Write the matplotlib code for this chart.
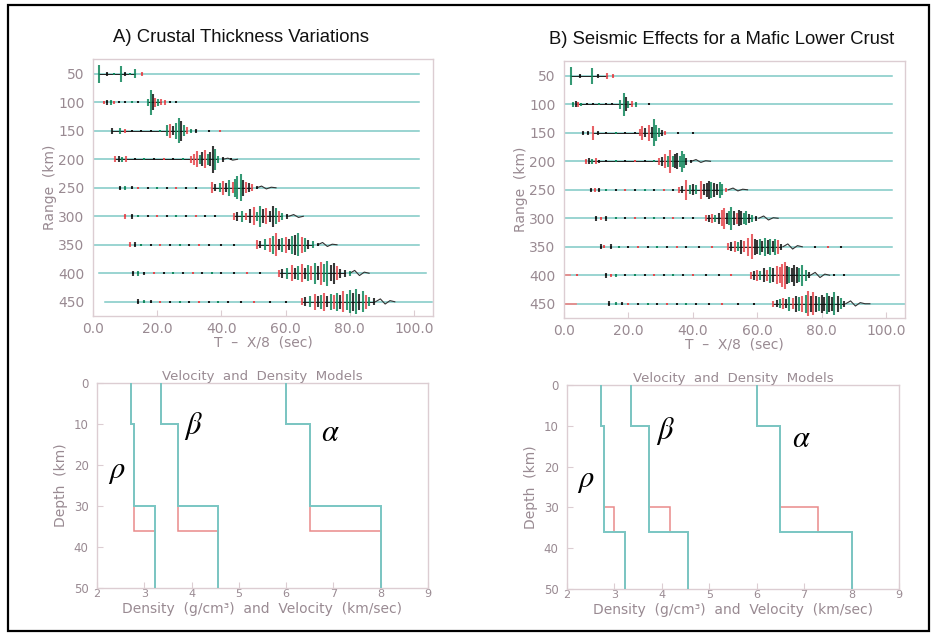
import matplotlib
matplotlib.use("Agg")
import matplotlib.pyplot as plt
from matplotlib.patches import Rectangle

# ---------------- data ----------------
ranges = [50, 100, 150, 200, 250, 300, 350, 400, 450]
time_ticks = [0, 20, 40, 60, 80, 100]
time_ticklabels = ["0.0", "20.0", "40.0", "60.0", "80.0", "100.0"]

A_start = [0, 0, 0, 0, 0, 0, 0, 2.0, 3.7]
A_end = [101.5, 101.5, 101.5, 101.5, 101.5, 101.5, 101.5, 103.6, 105.6]
B_start = [0, 0, 0, 0, 0, 0, 0, 0, 0]
B_end = [101.8, 101.8, 101.8, 101.8, 101.8, 101.8, 101.8, 104.0, 105.9]
B_red_start_end = {400: 2.0, 450: 3.7}

# spikes: (time s, half amplitude km, colour code)
A_050 = [(2.0,16,'g'),(4.5,3,'k'),(6.5,2,'g'),(8.7,14,'g'),(10.0,4,'k'),(11.5,2,'g'),(13.0,8,'g'),(15.4,4,'r')]
A_100 = [(3.5,3,'r'),(4.5,4,'k'),(5.5,4,'g'),(6.5,3,'r'),(8,2,'k'),(10,2,'k'),(12,2,'g'),(14,2,'k'),(17.2,6,'g'),
         (18.0,22,'g'),(18.6,14,'k'),(19.3,8,'r'),(20.2,6,'g'),(21.2,5,'r'),(22.5,4,'r'),(24,2,'k'),(26,2,'k')]
A_150 = [(6,5,'k'),(8.5,5,'g'),(10,3,'r'),(12,2,'k'),(15,2,'k'),(18,2,'k'),(21,2,'g'),(23,10,'g'),(24,12,'r'),(25,8,'k'),
         (26,14,'g'),(26.8,22,'g'),(27.5,18,'k'),(28.3,10,'g'),(29.3,6,'r'),(30.5,4,'g'),(32,3,'k'),(36,2,'k'),(39.5,2,'r')]
A_200 = [(7,5,'r'),(8,5,'k'),(9,4,'g'),(10.4,5,'r'),(13,2,'k'),(16,2,'g'),(19,2,'k'),(22,2,'r'),(25,2,'k'),(28,2,'g'),
         (30.6,6,'r'),(31.5,10,'r'),(32.3,14,'r'),(33.2,8,'g'),(34,12,'k'),(35,16,'r'),(35.8,10,'g'),(36.5,12,'k'),
         (37.3,24,'k'),(38,18,'g'),(39,6,'g'),(40.5,4,'k'),(43,2,'k')]
A_250 = [(8.4,4,'k'),(10,4,'g'),(12,3,'k'),(14,2,'r'),(17,2,'k'),(20,2,'g'),(23,2,'k'),(26,2,'r'),(29,2,'k'),(32,2,'k'),
         (37,10,'r'),(38,6,'k'),(39.5,8,'g'),(40.5,12,'r'),(41.5,8,'k'),(42.5,14,'g'),(43.5,10,'r'),(44.3,16,'g'),
         (45,20,'g'),(46,24,'g'),(46.8,14,'k'),(47.5,10,'r'),(48.5,8,'k'),(49.5,6,'r'),(51,3,'k')]
A_300 = [(10,4,'r'),(12,4,'k'),(14,2,'g'),(17,2,'k'),(20,2,'r'),(23,2,'k'),(26,2,'g'),(29,2,'k'),(32,2,'r'),(35,2,'k'),
         (38,2,'k'),(44,6,'r'),(45,8,'k'),(46.5,10,'g'),(47.5,6,'r'),(49,12,'k'),(50,16,'r'),(51,8,'g'),(52,18,'g'),
         (53,12,'k'),(54,14,'r'),(55,10,'k'),(56,18,'k'),(57,14,'g'),(58,10,'r'),(59,6,'g'),(60.5,4,'k')]
A_350 = [(11.5,4,'r'),(13,4,'k'),(15,2,'g'),(18,2,'k'),(21,2,'r'),(24,2,'k'),(27,2,'g'),(30,2,'k'),(33,2,'r'),(36,2,'k'),
         (40,2,'k'),(44,2,'k'),(51,8,'r'),(52,6,'k'),(53.5,10,'g'),(55,12,'r'),(56,16,'g'),(57,20,'r'),(58,10,'k'),
         (59,12,'g'),(60,14,'r'),(61,10,'k'),(62,16,'g'),(63,18,'k'),(64,20,'g'),(65,14,'r'),(66,12,'g'),(67,8,'k'),
         (68.5,6,'g'),(70,3,'k')]
A_400 = [(12.5,4,'k'),(14,4,'g'),(16,3,'k'),(19,2,'r'),(22,2,'k'),(25,2,'g'),(28,2,'k'),(31,2,'r'),(34,2,'k'),(37,2,'g'),
         (40,2,'k'),(44,2,'k'),(48,2,'r'),(52,2,'k'),(58,6,'r'),(59,8,'k'),(60.5,10,'g'),(62,14,'r'),(63,10,'k'),
         (64,12,'g'),(65,16,'r'),(66,10,'k'),(67,14,'g'),(68,12,'r'),(69,18,'g'),(70,12,'k'),(71,20,'r'),(72,16,'g'),
         (73,22,'g'),(74,14,'k'),(75,18,'k'),(76,12,'r'),(77,8,'k'),(78.5,6,'k'),(80,4,'g')]
A_450 = [(14,4,'k'),(16,3,'g'),(18,3,'k'),(21,2,'r'),(24,2,'k'),(27,2,'g'),(30,2,'k'),(33,2,'r'),(36,2,'k'),(39,2,'g'),
         (42,2,'k'),(46,2,'k'),(50,2,'r'),(55,2,'k'),(60,2,'k'),(65,6,'r'),(66,8,'k'),(67.5,10,'g'),(69,14,'r'),
         (70,10,'k'),(71,12,'g'),(72,16,'r'),(73,10,'k'),(74,14,'g'),(75,12,'r'),(76,16,'g'),(77,12,'k'),(78,18,'r'),
         (79,14,'g'),(80,20,'g'),(81,16,'k'),(82,22,'g'),(83,14,'k'),(84,18,'g'),(85,12,'r'),(86,8,'g'),(87.5,6,'k')]

B_050 = [(2.2,16,'g'),(5,3,'k'),(8.6,14,'g'),(10.5,4,'k'),(13.3,5,'r'),(15.3,4,'r')]
B_100 = [(2.8,4,'g'),(3.6,5,'k'),(4.4,4,'r'),(5.4,3,'g'),(7,2,'k'),(9,2,'k'),(11,2,'g'),(13,2,'k'),(15,2,'k'),
         (17.5,8,'g'),(18.5,20,'g'),(19.2,12,'k'),(20,6,'g'),(21,5,'r'),(22.5,4,'g'),(26.5,2,'k')]
B_150 = [(6,4,'k'),(7.5,3,'k'),(9,12,'r'),(10.5,3,'k'),(13,2,'k'),(16,2,'g'),(19,2,'k'),(22,2,'k'),(23.7,6,'r'),
         (24.2,12,'r'),(25.2,8,'k'),(26.3,14,'r'),(27.2,10,'k'),(27.9,24,'g'),(28.6,14,'g'),(29.5,8,'g'),(30.5,5,'k'),
         (31.5,3,'r'),(35.5,2,'k'),(40,2,'k')]
B_200 = [(6.8,4,'r'),(7.8,5,'k'),(8.8,4,'g'),(10,5,'r'),(11,3,'k'),(13,2,'k'),(16,2,'g'),(19,2,'k'),(22,2,'r'),(25,2,'k'),
         (28,2,'g'),(29.5,6,'r'),(30.5,8,'k'),(31.5,12,'r'),(32.3,10,'g'),(33,20,'r'),(33.8,10,'g'),(34.5,12,'k'),
         (35.2,14,'k'),(35.9,10,'g'),(36.5,18,'g'),(37.2,12,'g'),(38,6,'k'),(39.5,3,'k')]
B_250 = [(8.5,4,'k'),(9.5,4,'r'),(11,4,'k'),(13,2,'g'),(16,2,'k'),(19,2,'r'),(22,2,'k'),(25,2,'g'),(28,2,'k'),(31,2,'r'),
         (34,2,'k'),(35.6,5,'r'),(36.5,6,'k'),(38,18,'r'),(39,8,'g'),(40,10,'k'),(41,8,'g'),(42.6,16,'r'),(43.5,10,'k'),
         (44.3,12,'k'),(45,16,'k'),(45.8,14,'g'),(46.6,12,'k'),(47.5,10,'k'),(48.3,14,'g'),(49.2,10,'g'),(50.3,4,'r')]
B_300 = [(10,4,'k'),(11.5,3,'r'),(13,4,'k'),(16,2,'g'),(19,2,'k'),(22,2,'r'),(25,2,'k'),(28,2,'g'),(31,2,'k'),(34,2,'r'),
         (37,2,'k'),(40,2,'k'),(44,5,'r'),(45,6,'k'),(46,8,'r'),(47,6,'g'),(48,10,'k'),(49,14,'r'),(49.6,18,'r'),
         (50.5,10,'k'),(51.3,12,'g'),(52,20,'g'),(52.8,12,'k'),(53.6,10,'r'),(54.3,14,'k'),(55,12,'k'),(55.8,10,'g'),
         (56.6,12,'g'),(57.5,8,'k'),(58.5,6,'g'),(59.5,4,'k')]
B_350 = [(11.5,4,'k'),(12.5,3,'r'),(14.5,4,'k'),(17,2,'g'),(20,2,'k'),(23,2,'r'),(26,2,'k'),(29,2,'g'),(32,2,'k'),(35,2,'r'),
         (38,2,'k'),(42,2,'k'),(46,2,'r'),(51,6,'r'),(52,8,'k'),(53,10,'r'),(54,8,'g'),(55,12,'k'),(56,10,'r'),
         (57,16,'r'),(58.4,22,'r'),(59.2,14,'k'),(60,12,'k'),(60.8,14,'g'),(61.6,10,'k'),(62.4,16,'g'),(63.2,12,'k'),
         (64,14,'g'),(64.8,10,'k'),(65.6,14,'g'),(66.5,12,'r'),(67.5,5,'k'),(78,2,'k'),(82,2,'r'),(86,2,'k')]
B_400 = [(4,2,'r'),(13,4,'k'),(14.5,3,'r'),(16,3,'g'),(19,2,'k'),(22,2,'g'),(25,2,'k'),(28,2,'r'),(31,2,'k'),(34,2,'g'),
         (37,2,'k'),(40,2,'r'),(44,2,'k'),(48,2,'k'),(52,2,'r'),(58,6,'r'),(59,8,'k'),(60,10,'r'),(61,8,'g'),(62,12,'k'),
         (63,10,'r'),(64,14,'g'),(65,12,'k'),(66,16,'r'),(67,14,'r'),(67.8,20,'r'),(68.5,24,'r'),(69.3,16,'k'),
         (70,14,'g'),(70.8,12,'k'),(71.5,18,'k'),(72.3,14,'k'),(73,12,'g'),(74,18,'g'),(75,10,'g'),(76,5,'k'),
         (84,2,'k'),(87,2,'k')]
B_450 = [(14,4,'k'),(16,3,'g'),(18,3,'k'),(20,2,'r'),(23,2,'k'),(26,2,'g'),(29,2,'k'),(32,2,'r'),(35,2,'k'),(38,2,'g'),
         (41,2,'k'),(45,2,'k'),(49,2,'r'),(54,2,'k'),(59,2,'k'),(65,5,'r'),(66,6,'k'),(67,8,'g'),(68,10,'r'),(69,8,'k'),
         (70,12,'g'),(71,10,'r'),(72,14,'k'),(73,12,'g'),(74,14,'r'),(75,16,'g'),(75.8,22,'r'),(76.6,14,'k'),
         (77.4,20,'r'),(78.4,14,'k'),(79.2,12,'g'),(80,16,'k'),(80.8,12,'k'),(81.6,18,'g'),(82.4,14,'k'),(83.2,12,'k'),
         (84,20,'g'),(85,14,'k'),(86,10,'g'),(87,5,'k')]

# low-frequency tails after the main packets: (time s, offset km)
A_tails = {200: [(40.5,0),(42,-2),(43.5,1.5),(45,0)],
           250: [(51,0),(52.5,-3),(54,2),(55.5,-1),(57,0)],
           300: [(61,0),(62.5,-3),(64,2),(65.5,0)],
           350: [(70,0),(71.5,-4),(73,3),(74.5,-1),(76,0)],
           400: [(80,0),(81.5,-5),(83,4),(84.5,-2),(86,0)],
           450: [(88,0),(89.5,-5),(91,4),(92.5,-2),(94,0)]}
B_tails = {200: [(39.5,0),(41,-3),(42.5,2),(44,-1),(45.5,0)],
           250: [(51,0),(52.5,-3),(54,2),(55.5,-1),(57,0)],
           300: [(60.5,0),(62,-4),(63.5,3),(65,-1),(66.5,0)],
           350: [(68,0),(69.5,-5),(71,4),(72.5,-2),(74,0)],
           400: [(76.5,0),(78,-5),(79.5,4),(81,-2),(82.5,0)],
           450: [(87.5,0),(89,-5),(90.5,4),(92,-2),(93.5,0),(95,0)]}

A_spikes = [A_050, A_100, A_150, A_200, A_250, A_300, A_350, A_400, A_450]
B_spikes = [B_050, B_100, B_150, B_200, B_250, B_300, B_350, B_400, B_450]

# velocity / density models (layer edges in km, values)
A_ref_edges = [0, 10, 30, 50]
A_ref_rho = [2.72, 2.78, 3.22]
A_ref_vs = [3.35, 3.72, 4.55]
A_ref_vp = [6.0, 6.5, 8.0]
A_alt_edges = [0, 10, 36, 50]
A_alt_rho = [2.72, 2.78, 3.22]
A_alt_vs = [3.35, 3.72, 4.55]
A_alt_vp = [6.0, 6.5, 8.0]

B_ref_edges = [0, 10, 36, 50]
B_ref_rho = [2.72, 2.78, 3.22]
B_ref_vs = [3.35, 3.72, 4.55]
B_ref_vp = [6.0, 6.5, 8.0]
B_alt_edges = [0, 10, 30, 36, 50]
B_alt_rho = [2.72, 2.78, 3.0, 3.22]
B_alt_vs = [3.35, 3.72, 4.17, 4.55]
B_alt_vp = [6.0, 6.5, 7.3, 8.0]

A_greek = [(r"$\rho$", 2.42, 21.6), (r"$\beta$", 4.05, 10.4), (r"$\alpha$", 6.93, 12.0)]
B_greek = [(r"$\rho$", 2.40, 23.4), (r"$\beta$", 4.07, 11.2), (r"$\alpha$", 6.94, 13.0)]

# ---------------- style ----------------
W, H = 932, 634
CYAN = "#7ec9c5"
MREF = "#79c6c3"
MRED = "#e98a8a"
SPK = {'g': "#12875c", 'r': "#e4474c", 'k': "#151515"}
SPINE = "#dccdd2"
LABC = "#998a92"
TICKFONT = "DejaVu Sans"

fig = plt.figure(figsize=(W / 100, H / 100), dpi=100)


def fax(x0, y0, x1, y1):
    return fig.add_axes([x0 / W, 1 - y1 / H, (x1 - x0) / W, (y1 - y0) / H])


def style(ax):
    for s in ax.spines.values():
        s.set_color(SPINE)
        s.set_linewidth(1.0)
    ax.tick_params(direction="in", color=SPINE, labelcolor=LABC, length=4, width=0.8)


def record(ax, spikes, starts, ends, tails, red_start=None):
    for i, r in enumerate(ranges):
        ax.plot([starts[i], ends[i]], [r, r], color=CYAN, lw=1.1, zorder=1)
        if red_start and r in red_start:
            ax.plot([0, red_start[r]], [r, r], color=MRED, lw=1.3, zorder=2)
        ev = spikes[i]
        big = [e[0] for e in ev if e[1] >= 5]
        if big:
            ax.plot([min(big), max(big)], [r, r], color="#222222", lw=0.7, zorder=2)
        for code in "rgk":
            st = [e[0] for e in ev if e[2] == code and e[1] < 5]
            ax.plot(st, [r] * len(st), lw=0, marker="s", ms=1.7, mew=0, color=SPK[code], alpha=0.85, zorder=2)
            tt = [e[0] for e in ev if e[2] == code]
            aa = [e[1] for e in ev if e[2] == code]
            ax.vlines(tt, [r - a for a in aa], [r + a for a in aa], colors=SPK[code],
                      lw=1.5, alpha=0.85, zorder=3)
        if r in tails:
            ax.plot([p[0] for p in tails[r]], [r + p[1] for p in tails[r]], color="#333333", lw=0.8, zorder=2)
    ax.set_xlim(0, 105.9)
    ax.set_ylim(475, 24)
    ax.set_xticks(time_ticks)
    ax.set_xticklabels(time_ticklabels, family=TICKFONT, fontsize=10)
    ax.set_yticks(ranges)
    ax.set_yticklabels([str(r) for r in ranges], family=TICKFONT, fontsize=10)
    ax.tick_params(axis="x", pad=4)
    ax.set_xlabel("T  –  X/8  (sec)", family=TICKFONT, fontsize=10, color=LABC, labelpad=0)
    ax.set_ylabel("Range  (km)", family=TICKFONT, fontsize=10, color=LABC, labelpad=1)
    style(ax)
    ax.tick_params(axis="y", length=0, pad=6)


def model(ax, ref_e, ref, alt_e, alt, greek):
    for vals in alt:
        ax.stairs(vals, alt_e, orientation="horizontal", baseline=None, color=MRED, lw=1.1, zorder=2)
    for vals in ref:
        ax.stairs(vals, ref_e, orientation="horizontal", baseline=None, color=MREF, lw=1.4, zorder=3)
    for g, x, y in greek:
        ax.text(x, y, g, math_fontfamily="stix", fontsize=22, ha="center", va="center", color="black")
    ax.set_xlim(2, 9)
    ax.set_ylim(50, 0)
    ax.set_xticks(range(2, 10))
    ax.set_xticklabels([str(v) for v in range(2, 10)], family=TICKFONT, fontsize=8)
    ax.set_yticks(range(0, 51, 10))
    ax.set_yticklabels([str(v) for v in range(0, 51, 10)], family=TICKFONT, fontsize=8.5)
    ax.set_title("Velocity  and  Density  Models", family=TICKFONT, fontsize=9.5, color=LABC, pad=2)
    ax.set_xlabel("Density  (g/cm³)  and  Velocity  (km/sec)", family=TICKFONT, fontsize=10,
                  color=LABC, labelpad=2)
    ax.set_ylabel("Depth  (km)", family=TICKFONT, fontsize=10, color=LABC, labelpad=4)
    style(ax)
    ax.tick_params(axis="x", pad=1)
    ax.tick_params(axis="y", pad=6)


axA = fax(93, 59, 433, 316)
record(axA, A_spikes, A_start, A_end, A_tails)
axB = fax(564, 61, 905, 318)
record(axB, B_spikes, B_start, B_end, B_tails, B_red_start_end)

axC = fax(97, 383, 428, 588)
model(axC, A_ref_edges, [A_ref_rho, A_ref_vs, A_ref_vp], A_alt_edges, [A_alt_rho, A_alt_vs, A_alt_vp], A_greek)
axD = fax(567, 385, 899, 589)
model(axD, B_ref_edges, [B_ref_rho, B_ref_vs, B_ref_vp], B_alt_edges, [B_alt_rho, B_alt_vs, B_alt_vp], B_greek)

fig.text(241 / W, 1 - 37 / H, "A) Crustal Thickness Variations", family="Liberation Sans",
         fontsize=13.3, ha="center", va="center", color="#111111")
fig.text(722 / W, 1 - 39 / H, "B) Seismic Effects for a Mafic Lower Crust", family="Liberation Sans",
         fontsize=13.3, ha="center", va="center", color="#111111")

fig.patches.append(Rectangle((8 / W, 1 - 631 / H), 921 / W, 626 / H, transform=fig.transFigure,
                             fill=False, edgecolor="black", lw=1.6))

fig.savefig("out.png", dpi=100)
